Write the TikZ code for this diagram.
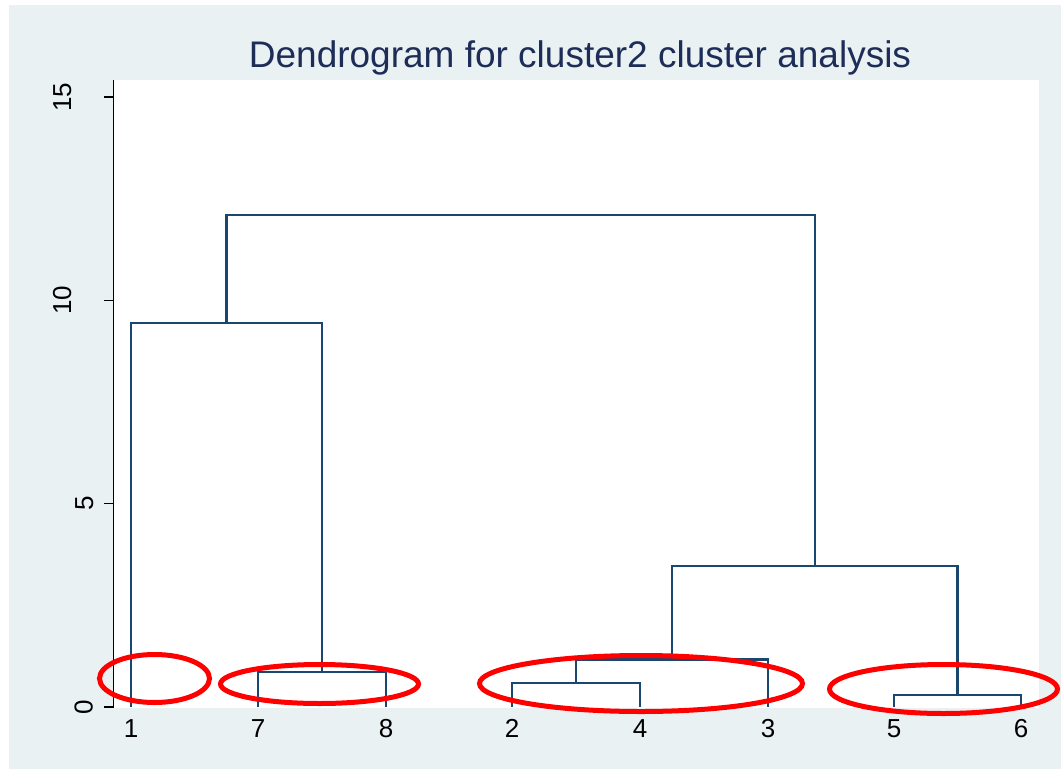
\documentclass[tikz,border=0pt]{standalone}
\usepackage{fontspec}
\setmainfont{Liberation Sans}
\definecolor{bgregion}{RGB}{233,241,243}
\definecolor{dendro}{RGB}{26,71,111}
\definecolor{titlecol}{RGB}{30,45,88}
\definecolor{mark}{RGB}{255,0,0}
\tikzset{
  link/.style={draw=dendro, line width=2.4pt, line join=miter},
  axisline/.style={draw=black, line width=1.1pt},
  ticklabel/.style={font=\fontsize{26}{26}\selectfont, inner sep=0pt, text=black},
  leaflabel/.style={ticklabel, anchor=base},
  ylabel/.style={ticklabel, rotate=90, anchor=base},
  circled/.style={draw=mark, line width=5pt},
}
\begin{document}
\begin{tikzpicture}[x=1pt,y=-1pt]
\useasboundingbox (0,0) rectangle (1061,769);
% graph region and plot region
\fill[white] (0,0) rectangle (1061,769);
\fill[bgregion] (9,5) rectangle (1061,769);
\fill[white] (114,80) rectangle (1039,708);

% title
\node[font=\fontsize{37}{37}\selectfont, text=titlecol, anchor=base, inner sep=0pt]
  (title) at (580,67.5) {Dendrogram for cluster2 cluster analysis};

% leaves (bottom of the plot, height 0)
\coordinate (l1) at (131,707);
\coordinate (l7) at (258,707);
\coordinate (l8) at (386,707);
\coordinate (l2) at (512,707);
\coordinate (l4) at (640,707);
\coordinate (l3) at (768,707);
\coordinate (l5) at (894,707);
\coordinate (l6) at (1021,707);

% merge points (centre of each join, at its height)
\coordinate (m78)   at (322,672);
\coordinate (m178)  at (226.5,323);
\coordinate (m24)   at (576,683);
\coordinate (m243)  at (672,659.5);
\coordinate (m56)   at (957.5,695);
\coordinate (mR)    at (814.75,566);
\coordinate (mtop)  at (520.6,215);

% dendrogram links
\draw[link] (l7) |- (m78) -| (l8);
\draw[link] (l1) |- (m178) -| (m78);
\draw[link] (l2) |- (m24) -| (l4);
\draw[link] (m24) |- (m243) -| (l3);
\draw[link] (l5) |- (m56) -| (l6);
\draw[link] (m243) |- (mR) -| (m56);
\draw[link] (m178) |- (mtop) -| (mR);

% y axis
\coordinate (ytop) at (113.5,80);
\coordinate (ybot) at (113.5,708);
\draw[axisline] (ytop) -- (ybot);
\foreach \v/\py in {0/707,5/503.7,10/300.3,15/97}{
  \coordinate (yt\v) at (113.5,\py);
  \draw[axisline] (yt\v) -- ++(-10,0);
}
\node[ylabel] (y15) at (71,97) {15};
\node[ylabel] (y10) at (71,300.3) {10};
\node[ylabel] (y5)  at (93,503.7) {5};
\node[ylabel] (y0)  at (92.5,707) {0};

% leaf labels
\foreach \k in {1,7,8,2,4,3,5,6}{
  \node[leaflabel] (t\k) at ([yshift=-30pt]l\k) {\k};
}

% highlighted groups
\coordinate (g1) at (154.5,678.5);
\coordinate (g2) at (319.5,684);
\coordinate (g3) at (641,683.5);
\coordinate (g4) at (943.5,689);
\draw[circled] (g1) ellipse [x radius=55pt, y radius=24pt];
\draw[circled] (g2) ellipse [x radius=99pt, y radius=19.5pt];
\draw[circled] (g3) ellipse [x radius=161.5pt, y radius=28pt];
\draw[circled] (g4) ellipse [x radius=114pt, y radius=24.5pt];
\end{tikzpicture}
\end{document}
